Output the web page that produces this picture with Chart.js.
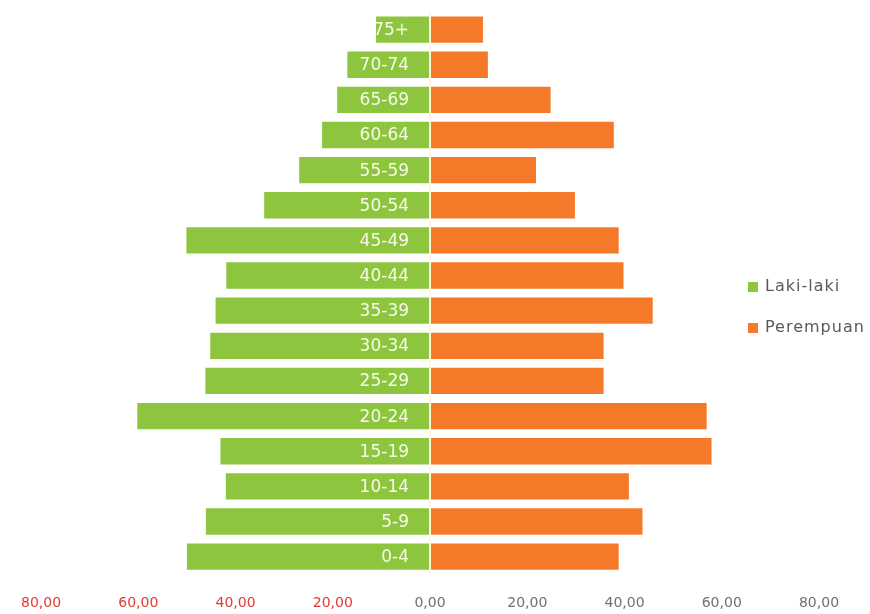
<!DOCTYPE html>
<html>
<head>
<meta charset="utf-8">
<script src="https://cdn.jsdelivr.net/npm/chart.js@4/dist/chart.umd.min.js"></script>
<style>
  html, body { margin: 0; padding: 0; background: #ffffff; }
  #wrap { width: 870px; height: 614px; position: relative; }
</style>
</head>
<body>
<div id="wrap"><canvas id="c" width="870" height="614"></canvas></div>
<script>
const categories = ['75+','70-74','65-69','60-64','55-59','50-54','45-49','40-44','35-39','30-34','25-29','20-24','15-19','10-14','5-9','0-4'];
const lakiLaki  = [11.1, 17.0, 19.1, 22.2, 26.9, 34.1, 50.1, 41.9, 44.1, 45.2, 46.2, 60.2, 43.1, 42.0, 46.1, 50.0];
const perempuan = [10.9, 11.9, 24.8, 37.8, 21.8, 29.8, 38.8, 39.8, 45.8, 35.7, 35.7, 56.9, 57.9, 40.9, 43.7, 38.8];
const seriesNames = ['Laki-laki', 'Perempuan'];
const xTicks = [-80, -60, -40, -20, 0, 20, 40, 60, 80];

const GREEN = '#8dc63e';
const ORANGE = '#f47a2a';

const overlayPlugin = {
  id: 'overlay',
  afterDatasetsDraw(chart) {
    const ctx = chart.ctx;
    const xs = chart.scales.x, ys = chart.scales.y;
    const x0 = xs.getPixelForValue(0);
    ctx.save();
    // zero separator
    ctx.strokeStyle = '#fbf6dc';
    ctx.lineWidth = 2;
    ctx.beginPath();
    ctx.moveTo(x0, chart.chartArea.top);
    ctx.lineTo(x0, chart.chartArea.bottom);
    ctx.stroke();
    // category labels
    ctx.fillStyle = '#f6fbe8';
    ctx.font = '17px "DejaVu Sans"';
    ctx.textAlign = 'right';
    ctx.textBaseline = 'middle';
    categories.forEach((c, i) => {
      ctx.fillText(c, x0 - 21, ys.getPixelForValue(i) + 1);
    });
    // legend
    const items = [
      {label: seriesNames[0], color: GREEN},
      {label: seriesNames[1], color: ORANGE}
    ];
    ctx.font = '16px "DejaVu Sans"';
    if ('letterSpacing' in ctx) ctx.letterSpacing = '1px';
    ctx.textAlign = 'left';
    items.forEach((it, i) => {
      const y = 287 + i * 41;
      ctx.fillStyle = it.color;
      ctx.fillRect(748, y - 5, 10, 10);
      ctx.fillStyle = '#595959';
      ctx.fillText(it.label, 765, y);
    });
    ctx.restore();
  }
};

new Chart(document.getElementById('c'), {
  type: 'bar',
  data: {
    labels: categories,
    datasets: [
      { label: seriesNames[0], data: lakiLaki.map(v => -v), backgroundColor: GREEN, borderWidth: 0 },
      { label: seriesNames[1], data: perempuan, backgroundColor: ORANGE, borderWidth: 0 }
    ]
  },
  options: {
    indexAxis: 'y',
    responsive: false,
    animation: false,
    devicePixelRatio: 1,
    layout: { padding: { left: 40, right: 51, top: 12, bottom: -19 } },
    datasets: { bar: { barPercentage: 0.75, categoryPercentage: 1.0 } },
    plugins: { legend: { display: false }, tooltip: { enabled: false } },
    scales: {
      x: {
        stacked: true,
        min: -80, max: 80,
        afterBuildTicks(axis) { axis.ticks = xTicks.map(v => ({ value: v })); },
        grid: { display: false, drawTicks: false },
        border: { display: false },
        ticks: {
          padding: 21,
          font: { family: 'DejaVu Sans', size: 14 },
          color: (c) => (c.tick && c.tick.value < 0) ? '#e23a35' : '#707070',
          callback: (v) => Math.abs(v).toFixed(2).replace('.', ',')
        }
      },
      y: {
        stacked: true,
        display: false
      }
    }
  },
  plugins: [overlayPlugin]
});
</script>
</body>
</html>
